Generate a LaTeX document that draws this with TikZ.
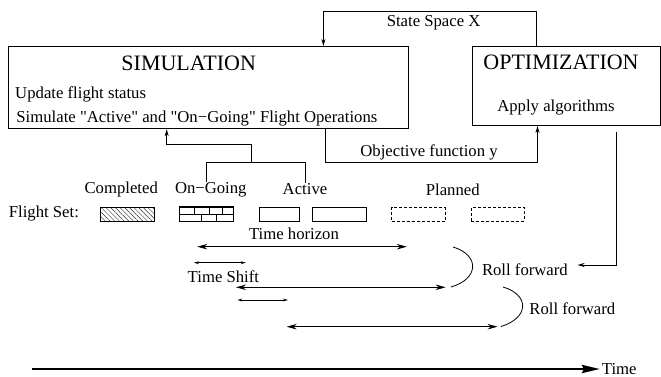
\documentclass[tikz,border=0pt]{standalone}
\usepackage{fontspec}
\setmainfont{Liberation Serif}
\usetikzlibrary{arrows.meta,patterns.meta}
\begin{document}
\begin{tikzpicture}[x=1pt,y=-1pt, line width=0.9pt,
  bigbox/.style={draw, inner sep=0pt, anchor=north west},
  big/.style={font=\fontsize{22}{26}\selectfont, inner sep=0pt},
  lbl/.style={font=\fontsize{16.7}{20}\selectfont, inner sep=0pt},
  conn/.style={line width=0.9pt},
  arr/.style={conn, -{Stealth[length=7pt,width=4pt]}},
  dbl/.style={line width=0.9pt, {Stealth[length=10pt,width=5.5pt]}-{Stealth[length=10pt,width=5.5pt]}},
  sdbl/.style={line width=0.7pt, {Stealth[length=5pt,width=2.8pt]}-{Stealth[length=5pt,width=2.8pt]}},
  fbox/.style={draw, line width=0.8pt, inner sep=0pt, anchor=north west, minimum height=13.4pt},
  plan/.style={fbox, dash pattern=on 3pt off 2pt},
  rollcurve/.style={line width=0.8pt},
  axis/.style={line width=2.8pt, -{Stealth[length=18pt,width=8pt,inset=2pt]}}
]
\useasboundingbox (0,0) rectangle (661,377);

% main boxes
\node[bigbox, minimum width=400pt, minimum height=82.3pt] (sim) at (7.6,46) {};
\node[bigbox, minimum width=188.5pt, minimum height=79pt] (opt) at (471.5,46) {};

\node[big] (simt) at (188.7,63.3) {SIMULATION};
\node[lbl, anchor=west] (upd) at (14.8,94.3) {Update flight status};
\node[lbl, anchor=west] (simop) at (16,118.3) {Simulate \textquotedbl Active\textquotedbl{} and \textquotedbl On−Going\textquotedbl{} Flight Operations};
\node[big] (optt) at (561,62.5) {OPTIMIZATION};
\node[lbl] (apply) at (556,107.5) {Apply algorithms};

% state space loop
\coordinate (ssr) at (536.7,11.7);
\coordinate (ssl) at (323.4,11.7);
\draw[arr] (opt.north -| ssr) -- (ssr) -- (ssl) -- (sim.north -| ssl);
\node[lbl] (sstext) at (433.6,22.7) {State Space X};

% objective function loop
\coordinate (obl) at (325.7,162.3);
\coordinate (obr) at (537.5,162.3);
\draw[arr] (sim.south -| obl) -- (obl) -- (obr) -- (opt.south -| obr);
\node[lbl] (objtext) at (429,152.7) {Objective function y};

% flight set labels
\node[lbl] (lcomp) at (121.2,189.3) {Completed};
\node[lbl] (long) at (210.8,189.3) {On−Going};
\node[lbl] (lact) at (305,189.3) {Active};
\node[lbl] (lplan) at (452.8,189.3) {Planned};
\node[lbl, anchor=west] (fset) at (8.4,213.3) {Flight Set:};

% feedback from on-going / active to simulation
\coordinate (fa) at (206,162.3);
\coordinate (fb) at (305,162.3);
\coordinate (fm) at (251.7,162.3);
\coordinate (fk) at (251.7,144);
\coordinate (fl) at (166.7,144);
\draw[conn] (long.north -| fa) -- (fa) -- (fb) -- (lact.north -| fb);
\draw[arr] (fm) -- (fk) -- (fl) -- (sim.south -| fl);

% flight boxes
\node[fbox, minimum width=53.6pt, pattern={Lines[angle=-45,distance=3.3pt,line width=0.45pt]}, pattern color=black!80] (bcomp) at (100.3,207.3) {};
\node[fbox, minimum width=53.9pt] (bong) at (179.2,207.3) {};
\draw[line width=0.7pt] (bong.west) -- (bong.east);
\draw[line width=1.8pt] (bong.north west) -- (bong.north east);
\foreach \dx in {15,30,43} \draw[line width=0.7pt] ([xshift=\dx pt]bong.north west) -- ([xshift=\dx pt]bong.west);
\foreach \dx in {22.5,37} \draw[line width=0.7pt] ([xshift=\dx pt]bong.west) -- ([xshift=\dx pt]bong.south west);
\node[fbox, minimum width=40pt] (bact1) at (259.3,207.3) {};
\node[fbox, minimum width=53.5pt] (bact2) at (312,207.3) {};
\node[plan, minimum width=53.6pt] (bpl1) at (391.2,207.3) {};
\node[plan, minimum width=53.1pt] (bpl2) at (470.9,207.3) {};

% time horizons
\node[lbl] (thor) at (294,234) {Time horizon};
\coordinate (h1a) at (197.3,246.7);
\coordinate (h1b) at (406.8,246.7);
\draw[dbl] (h1a) -- (h1b);
\coordinate (s1a) at (193.9,262.7);
\coordinate (s1b) at (245.8,262.7);
\draw[sdbl] (s1a) -- (s1b);
\node[lbl] (tshift) at (223.4,276.7) {Time Shift};
\coordinate (h2a) at (236,287.3);
\coordinate (h2b) at (445.6,287.3);
\draw[dbl] (h2a) -- (h2b);
\coordinate (s2a) at (237.4,300);
\coordinate (s2b) at (288,300);
\draw[sdbl] (s2a) -- (s2b);
\coordinate (h3a) at (286.7,326.7);
\coordinate (h3b) at (497.5,326.7);
\draw[dbl] (h3a) -- (h3b);

% roll forward curves
\coordinate (c1a) at (453,247);
\coordinate (c1b) at (451,287);
\draw[rollcurve] (c1a) .. controls (480,255) and (479,279) .. (c1b);
\coordinate (c2a) at (503,287);
\coordinate (c2b) at (501,326.5);
\draw[rollcurve] (c2a) .. controls (530,295) and (529,318) .. (c2b);
\node[lbl] (rf1) at (524.9,269.3) {Roll forward};
\node[lbl] (rf2) at (572.3,308.3) {Roll forward};

% roll forward feedback
\coordinate (rtop) at (616.5,131.7);
\coordinate (rcorner) at (616.5,265);
\coordinate (rtip) at (577.6,265);
\draw[arr] (rtop) -- (rcorner) -- (rtip);

% time axis
\coordinate (ax0) at (32,369);
\coordinate (ax1) at (600,369);
\draw[axis] (ax0) -- (ax1);
\node[lbl, anchor=west] (tlbl) at (601.5,369) {Time};
\end{tikzpicture}
\end{document}
